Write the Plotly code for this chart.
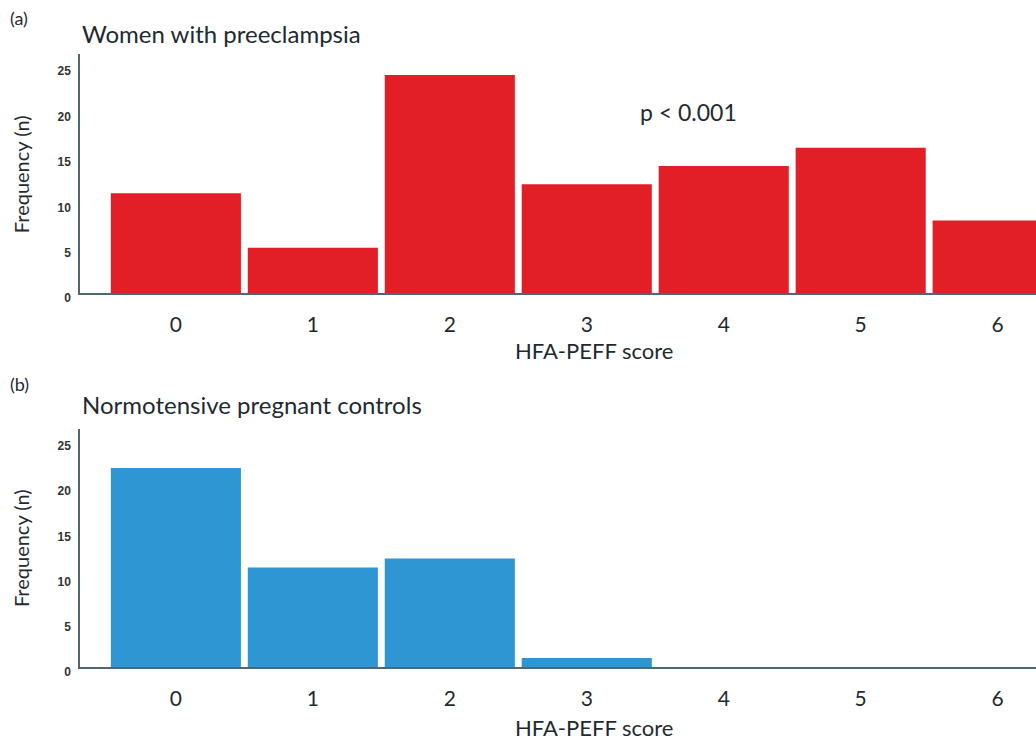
import plotly.graph_objects as go

scores = [0, 1, 2, 3, 4, 5, 6]
score_labels = ["0", "1", "2", "3", "4", "5", "6"]
preeclampsia_counts = [11, 5, 24, 12, 14, 16, 8]
control_counts = [22, 11, 12, 1, 0, 0, 0]
y_ticks = [0, 5, 10, 15, 20, 25]

RED = "#E21F26"
BLUE = "#2F96D4"
AXIS = "#4f6673"
TXT = "#1f2a30"
FONT = "Lato"

fig = go.Figure()
fig.add_trace(go.Bar(x=scores, y=preeclampsia_counts, marker=dict(color=RED, line=dict(width=0)),
                     xaxis="x", yaxis="y", showlegend=False))
fig.add_trace(go.Bar(x=scores, y=control_counts, marker=dict(color=BLUE, line=dict(width=0)),
                     xaxis="x2", yaxis="y2", showlegend=False))

xcommon = dict(range=[-0.70, 6.28], tickmode="array", tickvals=scores, ticktext=score_labels,
               showline=True, linecolor=AXIS, linewidth=1.5, showgrid=False, zeroline=False,
               ticks="", ticklabelstandoff=12,
               tickfont=dict(family=FONT, size=21, color=TXT))
ycommon = dict(range=[0, 26.3], tickmode="array", tickvals=y_ticks,
               showline=True, linecolor=AXIS, linewidth=1.5, showgrid=False, zeroline=False,
               ticks="", ticklabelstandoff=5, ticklabelshift=5,
               tickfont=dict(family="Liberation Sans", size=12, color="#333", weight="bold"))

W, H = 1036.0, 751.0
def px(xp):
    return (xp - 80) / (W - 80)
def py(yp):
    return 1 - yp / H

fig.update_layout(
    width=1036, height=751,
    margin=dict(l=80, r=0, t=0, b=0),
    paper_bgcolor="white", plot_bgcolor="white",
    bargap=0.05,
    xaxis=dict(domain=[0, 1], anchor="y", **xcommon),
    yaxis=dict(domain=[py(298), py(55)], anchor="x", **ycommon),
    xaxis2=dict(domain=[0, 1], anchor="y2", **xcommon),
    yaxis2=dict(domain=[py(678), py(436)], anchor="x2", **ycommon),
)

def ann(text, x, y, size, xanchor="left", textangle=0, family=FONT):
    fig.add_annotation(text=text, x=x, y=y, xref="paper", yref="paper", xanchor=xanchor,
                       yanchor="middle", showarrow=False, textangle=textangle,
                       font=dict(family=family, size=size, color=TXT))

ann("(a)", px(8), py(18), 18)
ann("Women with preeclampsia", px(80), py(34), 24)
ann("p < 0.001", px(688), py(114), 23, xanchor="center")
ann("HFA-PEFF score", px(594), py(356), 22, xanchor="center")
ann("Frequency (n)", px(21), py(177), 20, xanchor="center", textangle=-90)

ann("(b)", px(8), py(390), 18)
ann("Normotensive pregnant controls", px(80), py(411), 24)
ann("HFA-PEFF score", px(594), py(739), 22, xanchor="center")
ann("Frequency (n)", px(21), py(557), 20, xanchor="center", textangle=-90)

post = (
    "document.documentElement.style.margin='0';"
    "document.documentElement.style.padding='0';"
    "document.documentElement.style.overflow='hidden';"
    "document.documentElement.style.height='751px';"
    "document.body.style.margin='0';"
    "document.body.style.padding='0';"
    "document.body.style.overflow='hidden';"
    "document.body.style.height='751px';"
    "var gd=document.getElementById('{plot_id}');"
    "gd.style.display='block';"
    "if(gd.parentElement){gd.parentElement.style.height='751px';gd.parentElement.style.overflow='hidden';gd.parentElement.style.lineHeight='0';}"
)
fig.write_html("out.html", config={"displayModeBar": False}, post_script=post)
